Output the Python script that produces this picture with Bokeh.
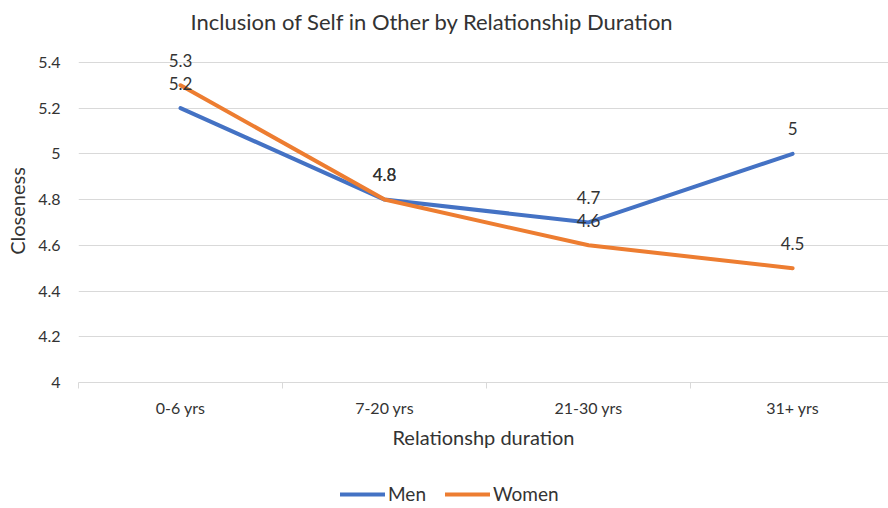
from bokeh.plotting import figure
from bokeh.layouts import column
from bokeh.models import (FixedTicker, NumeralTickFormatter, Legend, LegendItem,
                          ColumnDataSource, Range1d, Title)
from bokeh.core.properties import value
from bokeh.embed import file_html
from bokeh.resources import INLINE

categories = ["0-6 yrs", "7-20 yrs", "21-30 yrs", "31+ yrs"]
men = [5.2, 4.8, 4.7, 5.0]
women = [5.3, 4.8, 4.6, 4.5]
men_labels = ["5.2", "4.8", "4.7", "5"]
women_labels = ["5.3", "4.8", "4.6", "4.5"]
y_ticks = [4.0, 4.2, 4.4, 4.6, 4.8, 5.0, 5.2, 5.4]
series_names = ["Men", "Women"]

FONT = "Lato"
TXT = "#333333"
BLUE = "#4472C4"
ORANGE = "#ED7D31"

xs = list(range(len(categories)))

p = figure(width=888, height=470, output_backend="svg", toolbar_location=None,
           x_range=Range1d(-0.5, 3.47), y_range=Range1d(4.0, 5.5),
           min_border_left=78, min_border_right=0, min_border_top=38,
           min_border_bottom=88)
p.outline_line_color = None
p.background_fill_color = "white"
p.border_fill_color = "white"

p.title = Title(text="Inclusion of Self in Other by Relationship Duration",
                align="left", offset=112, text_font=FONT, text_font_size="22px",
                text_font_style="normal", text_color=TXT, standoff=10)

# x axis
xa = p.xaxis[0]
xa.ticker = FixedTicker(ticks=xs, minor_ticks=[-0.5, 0.5, 1.5, 2.5, 3.5])
xa.major_label_overrides = {i: c for i, c in zip(xs, categories)}
xa.major_tick_line_color = None
xa.major_tick_out = 0
xa.major_tick_in = 0
xa.minor_tick_line_color = "#D9D9D9"
xa.minor_tick_out = 6
xa.minor_tick_in = 0
xa.axis_line_color = "#D9D9D9"
xa.major_label_standoff = 9
xa.major_label_text_font = FONT
xa.major_label_text_font_size = "16px"
xa.major_label_text_color = TXT
xa.axis_label = "Relationshp duration"
xa.axis_label_text_font = FONT
xa.axis_label_text_font_size = "20px"
xa.axis_label_text_font_style = "normal"
xa.axis_label_text_color = TXT
xa.axis_label_standoff = 5

# y axis
ya = p.yaxis[0]
ya.ticker = FixedTicker(ticks=y_ticks)
ya.formatter = NumeralTickFormatter(format="0.[0]")
ya.axis_line_color = None
ya.major_tick_line_color = None
ya.minor_tick_line_color = None
ya.major_tick_out = 0
ya.major_label_standoff = 18
ya.major_label_text_font = FONT
ya.major_label_text_font_size = "16px"
ya.major_label_text_color = TXT
ya.axis_label = "Closeness"
ya.axis_label_text_font = FONT
ya.axis_label_text_font_size = "20px"
ya.axis_label_text_font_style = "normal"
ya.axis_label_text_color = TXT
ya.axis_label_standoff = 6

p.xgrid.grid_line_color = None
p.ygrid.ticker = FixedTicker(ticks=y_ticks[1:])
p.ygrid.grid_line_color = "#D9D9D9"
p.ygrid.grid_line_width = 1

src_m = ColumnDataSource(dict(x=xs, y=men, t=men_labels))
src_w = ColumnDataSource(dict(x=xs, y=women, t=women_labels))

p.line("x", "y", source=src_m, line_color=BLUE, line_width=4, line_cap="round")
p.line("x", "y", source=src_w, line_color=ORANGE, line_width=4, line_cap="round")

for src in (src_m, src_w):
    p.text("x", "y", text="t", source=src, y_offset=-25, text_align="center",
           text_baseline="middle", text_font=value(FONT), text_font_size="17px",
           text_color=TXT)

# legend strip (separate small figure so the legend is not clipped by the plot frame)
lg = figure(width=888, height=38, output_backend="svg", toolbar_location=None,
            x_range=Range1d(10, 11), y_range=Range1d(10, 11),
            min_border_left=0, min_border_right=0, min_border_top=0,
            min_border_bottom=0)
lg.axis.visible = False
lg.grid.visible = False
lg.outline_line_color = None
lg.border_fill_color = "white"
lm = lg.line("x", "y", source=src_m, line_color=BLUE, line_width=4, line_cap="round")
lw = lg.line("x", "y", source=src_w, line_color=ORANGE, line_width=4, line_cap="round")

legend = Legend(items=[LegendItem(label=series_names[0], renderers=[lm]),
                       LegendItem(label=series_names[1], renderers=[lw])],
                orientation="horizontal", location=(262, 3),
                padding=0, margin=0, spacing=19, label_standoff=3,
                glyph_width=45, glyph_height=20, label_height=20,
                label_text_font=FONT, label_text_font_size="19px",
                label_text_color=TXT, background_fill_alpha=0,
                border_line_color=None)
lg.add_layout(legend, "center")

layout = column(p, lg, spacing=0)
open("out.html", "w").write(file_html(layout, INLINE))
